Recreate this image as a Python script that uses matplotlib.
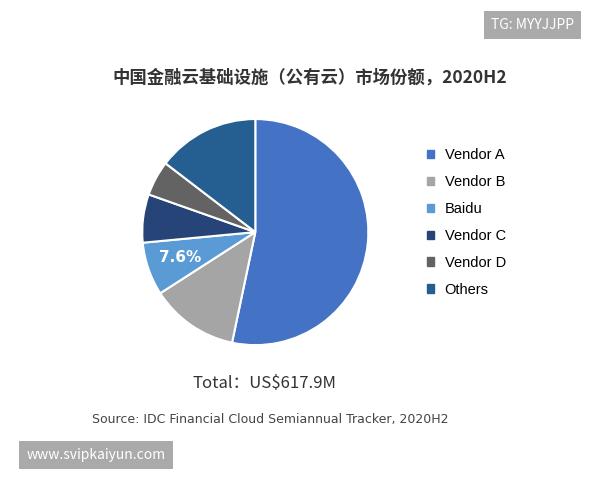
import matplotlib
matplotlib.use("Agg")
import matplotlib.pyplot as plt
import numpy as np

labels = ["Vendor A", "Vendor B", "Baidu", "Vendor C", "Vendor D", "Others"]
values = [53.3, 12.6, 7.6, 6.9, 5.0, 14.6]
colors = ["#4472C4", "#A5A5A5", "#5B9BD5", "#264478", "#636363", "#255E91"]

plt.rcParams['font.family'] = ['Noto Sans CJK SC', 'DejaVu Sans']
fig = plt.figure(figsize=(6, 4.8), dpi=100)
ax = fig.add_axes([0.237, 0.281, 0.377, 0.471])
wedges, _ = ax.pie(values, colors=colors, startangle=90, counterclock=False,
                   wedgeprops=dict(edgecolor="white", linewidth=1.5))
ax.set_xlim(-1, 1)
ax.set_ylim(-1, 1)
ax.set_aspect("equal")
w = wedges[2]
ang = np.deg2rad((w.theta1 + w.theta2) / 2)
ax.text(0.7 * np.cos(ang), 0.7 * np.sin(ang), "7.6%", color="white",
        fontsize=11, fontweight="bold", ha="center", va="center", family="DejaVu Sans")

handles = [plt.Rectangle((0, 0), 1, 1, color=c) for c in colors]
fig.legend(handles, labels, loc="upper left", bbox_to_anchor=(0.69, 0.718),
           frameon=False, prop={"family": "Liberation Sans", "size": 10.5},
           handlelength=0.5, handleheight=0.5,
           labelspacing=0.88, handletextpad=0.7)

fig.text(0.517, 0.838, "中国金融云基础设施（公有云）市场份额，2020H2", ha="center", va="center",
         fontsize=12.5, fontweight="bold", color="#333333")
fig.text(0.44, 0.202, "Total：US$617.9M", ha="center", va="center", fontsize=12, color="#333333")
fig.text(0.45, 0.125, "Source: IDC Financial Cloud Semiannual Tracker, 2020H2",
         ha="center", va="center", fontsize=9, color="#444444", family="DejaVu Sans")
fig.text(0.887, 0.948, "TG: MYYJJPP", ha="center", va="center", fontsize=10,
         color="white", bbox=dict(boxstyle="square,pad=0.5", fc="#aaaaaa", ec="none"))
fig.text(0.16, 0.052, "www.svipkaiyun.com", ha="center", va="center", fontsize=10,
         color="white", bbox=dict(boxstyle="square,pad=0.5", fc="#aaaaaa", ec="none"))
fig.savefig("out.png")
